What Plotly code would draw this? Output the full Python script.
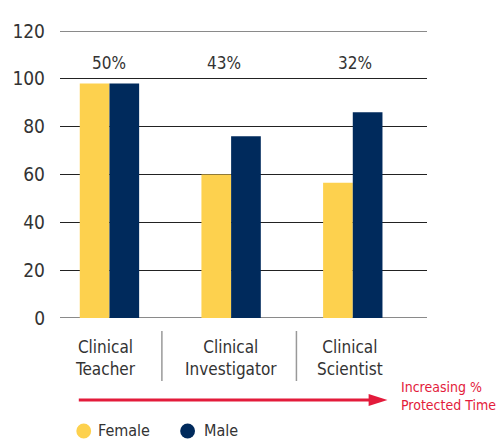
import plotly.graph_objects as go

categories = ["Clinical<br>Teacher", "Clinical<br>Investigator", "Clinical<br>Scientist"]
female = [98, 60, 56.5]
male = [98, 76, 86]
pct_labels = ["50%", "43%", "32%"]
y_ticks = [0, 20, 40, 60, 80, 100, 120]

W, H = 501, 439
L, R, T, B = 56, 427, 31, 318
FONT = "DejaVu Sans Condensed, Liberation Sans Narrow, Arial Narrow, sans-serif"
YEL = "#FDD14E"
NAVY = "#002A5C"
RED = "#E31B3B"
TXT = "#333333"

def px(x):
    return (x - L) / (R - L)

def py(y):
    return (B - y) / (B - T)

xs = list(range(len(categories)))
fig = go.Figure()
fig.add_trace(go.Bar(x=xs, y=female, name="Female", marker=dict(color=YEL, line=dict(width=0))))
fig.add_trace(go.Bar(x=xs, y=male, name="Male", marker=dict(color=NAVY, line=dict(width=0))))

shapes = []
for v in (0, 120):
    shapes.append(dict(type="line", xref="paper", yref="y", x0=0, x1=1, y0=v, y1=v,
                       line=dict(color="#8a8a8a", width=2), layer="below"))
for sx in (159, 295):
    shapes.append(dict(type="line", xref="paper", yref="paper", x0=px(sx), x1=px(sx),
                       y0=py(331), y1=py(381), line=dict(color="#999999", width=1.5)))
shapes.append(dict(type="line", xref="paper", yref="paper", x0=px(75), x1=px(372),
                   y0=py(400), y1=py(400), line=dict(color=RED, width=3)))
shapes.append(dict(type="path", xref="paper", yref="paper",
                   path=f"M {px(368)},{py(394)} L {px(387)},{py(400)} L {px(368)},{py(406)} Z",
                   fillcolor=RED, line=dict(color=RED, width=0)))
for cx, col in ((80, YEL), (185, NAVY)):
    shapes.append(dict(type="circle", xref="paper", yref="paper",
                       x0=px(cx - 7.5), x1=px(cx + 7.5), y0=py(431 - 7.5), y1=py(431 + 7.5),
                       fillcolor=col, line=dict(width=0)))

annotations = []
shifts = [0, -7, 2]
for i, lab in enumerate(pct_labels):
    annotations.append(dict(x=i, y=py(63), xref="x", yref="paper", text=lab, showarrow=False,
                            xshift=shifts[i], yanchor="middle",
                            font=dict(family=FONT, size=17, color=TXT)))
cat_shift = [-4, 0, -3]
for i, lab in enumerate(categories):
    annotations.append(dict(x=i, y=py(335), xref="x", yref="paper", text=lab, showarrow=False,
                            xshift=cat_shift[i], yanchor="top",
                            font=dict(family=FONT, size=17, color=TXT)))
annotations.append(dict(x=px(399), y=py(396), xref="paper", yref="paper",
                        text="Increasing %<br>Protected Time", showarrow=False,
                        xanchor="left", yanchor="middle", align="left",
                        font=dict(family=FONT, size=14, color=RED)))
for tx, name in ((92, "Female"), (200, "Male")):
    annotations.append(dict(x=px(tx), y=py(430), xref="paper", yref="paper", text=name,
                            showarrow=False, xanchor="left", yanchor="middle",
                            font=dict(family=FONT, size=16, color=TXT)))

fig.update_layout(
    width=W, height=H,
    margin=dict(l=L, r=W - R, t=T, b=H - B, pad=0),
    paper_bgcolor="white", plot_bgcolor="white",
    barmode="group", bargap=0.512, bargroupgap=0,
    showlegend=False,
    shapes=shapes, annotations=annotations,
    xaxis=dict(range=[-0.4065, 2.61], showticklabels=False, showgrid=False,
               zeroline=False, showline=False, ticks=""),
    yaxis=dict(range=[0, 120], tickvals=y_ticks, showgrid=True, gridcolor="#222222",
               gridwidth=1, zeroline=False, showline=False, ticks="",
               ticklabelstandoff=14,
               tickfont=dict(family=FONT, size=19, color=TXT)),
)
fig.write_html("out.html", config={"displayModeBar": False},
               post_script="document.body.style.margin='0';document.body.style.overflow='hidden';")
